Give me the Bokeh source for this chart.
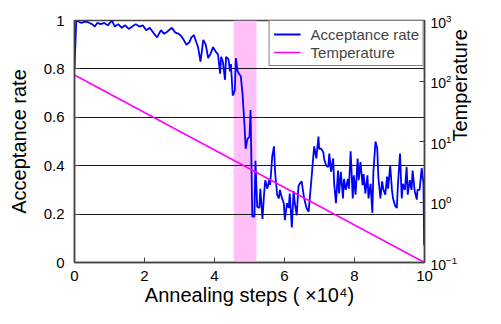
import math
from bokeh.plotting import figure
from bokeh.models import Range1d, LogScale, LogAxis, FixedTicker
from bokeh.embed import file_html
from bokeh.resources import INLINE

# ---- data ----
steps = [0.00, 0.05, 0.12, 0.20, 0.30, 0.40, 0.50, 0.58, 0.65, 0.75, 0.85, 0.95, 1.07, 1.15, 1.25,
         1.35, 1.45, 1.55, 1.65, 1.75, 1.85, 1.95, 2.05, 2.15, 2.25, 2.36, 2.47, 2.56, 2.66, 2.78,
         2.88, 2.98, 3.05, 3.12, 3.20, 3.28, 3.34, 3.41, 3.48, 3.53, 3.60, 3.68, 3.75, 3.82, 3.88,
         3.96, 4.04, 4.10, 4.16, 4.19, 4.24, 4.30, 4.33, 4.40, 4.44, 4.47, 4.52, 4.58, 4.61, 4.66,
         4.70, 4.75, 4.80, 4.86, 4.89, 4.94, 5.00, 5.03, 5.08, 5.14, 5.17, 5.22, 5.28, 5.31, 5.37,
         5.42, 5.45, 5.51, 5.56, 5.59, 5.65, 5.70, 5.73, 5.79, 5.84, 5.87, 5.93, 5.98, 6.01, 6.07,
         6.12, 6.15, 6.21, 6.26, 6.29, 6.35, 6.40, 6.43, 6.49, 6.54, 6.57, 6.63, 6.69, 6.71, 6.77,
         6.83, 6.85, 6.91, 6.97, 6.99, 7.05, 7.11, 7.13, 7.19, 7.25, 7.28, 7.33, 7.39, 7.42, 7.47,
         7.53, 7.56, 7.61, 7.67, 7.70, 7.75, 7.81, 7.84, 7.89, 7.95, 7.98, 8.03, 8.09, 8.12, 8.17,
         8.23, 8.26, 8.31, 8.37, 8.40, 8.46, 8.51, 8.54, 8.60, 8.65, 8.68, 8.74, 8.79, 8.82, 8.88,
         8.93, 8.96, 9.02, 9.07, 9.10, 9.16, 9.21, 9.24, 9.30, 9.35, 9.38, 9.44, 9.49, 9.52, 9.58,
         9.63, 9.66, 9.72, 9.78, 9.80, 9.86, 9.92, 9.94, 9.97, 9.99]
acceptance = [0.80, 1.00, 0.995, 0.99, 0.995, 0.992, 0.985, 0.975, 0.99, 0.985, 0.99, 0.98, 1.00, 0.975, 0.985,
              0.97, 0.98, 0.965, 0.975, 0.985, 0.975, 0.98, 0.96, 0.97, 0.95, 0.93, 0.96, 0.945, 0.955, 0.97,
              0.95, 0.945, 0.935, 0.92, 0.90, 0.91, 0.93, 0.94, 0.91, 0.89, 0.83, 0.92, 0.90, 0.845, 0.86,
              0.89, 0.87, 0.86, 0.78, 0.85, 0.83, 0.755, 0.85, 0.84, 0.79, 0.82, 0.69, 0.71, 0.845, 0.79,
              0.78, 0.77, 0.70, 0.56, 0.47, 0.51, 0.52, 0.63, 0.19, 0.19, 0.42, 0.23, 0.225, 0.305, 0.18,
              0.29, 0.34, 0.305, 0.34, 0.32, 0.44, 0.48, 0.375, 0.28, 0.265, 0.30, 0.265, 0.245, 0.175, 0.245,
              0.225, 0.285, 0.145, 0.295, 0.25, 0.195, 0.315, 0.325, 0.335, 0.285, 0.26, 0.225, 0.21, 0.245, 0.345,
              0.45, 0.48, 0.43, 0.52, 0.47, 0.47, 0.455, 0.43, 0.40, 0.395, 0.45, 0.375, 0.43, 0.325, 0.245,
              0.38, 0.285, 0.375, 0.265, 0.345, 0.30, 0.345, 0.305, 0.46, 0.265, 0.36, 0.28, 0.43, 0.34, 0.415,
              0.32, 0.365, 0.285, 0.36, 0.265, 0.325, 0.205, 0.375, 0.50, 0.47, 0.355, 0.265, 0.335, 0.305, 0.28,
              0.355, 0.305, 0.40, 0.30, 0.265, 0.235, 0.225, 0.32, 0.45, 0.265, 0.325, 0.30, 0.395, 0.28, 0.34,
              0.30, 0.38, 0.295, 0.26, 0.30, 0.30, 0.39, 0.36, 0.33, 0.07]
temp_steps = [0, 10]
temperature = [126, 0.1]
band_start = [4.55]
band_end = [5.2]
x_ticks = [0, 2, 4, 6, 8, 10]
acc_ticks = [0, 0.2, 0.4, 0.6, 0.8, 1]
grid_levels = [0.2, 0.4, 0.6, 0.8]
temp_ticks = [0.1, 1, 10, 100, 1000]

FONT = "Liberation Sans"
SPINE = "#444444"

p = figure(width=485, height=308,
           x_range=Range1d(0, 10), y_range=Range1d(0, 1),
           output_backend="svg", toolbar_location=None,
           min_border_left=74, min_border_right=56, min_border_top=20, min_border_bottom=46,
           background_fill_color="white", border_fill_color="white")
p.extra_y_ranges = {"temp": Range1d(0.1, 1000)}
p.extra_y_scales = {"temp": LogScale()}

p.outline_line_color = SPINE
p.outline_line_width = 1.5

# pink band (below grid)
p.quad(left=band_start, right=band_end, bottom=[0], top=[1],
       fill_color="#FFC0F8", line_color=None, level="image")

acc_r = p.line(steps, acceptance, line_color="#0000FF", line_width=1.8, legend_label="Acceptance rate")
temp_r = p.line(temp_steps, temperature, line_color="#FF00FF", line_width=1.6,
                y_range_name="temp", legend_label="Temperature")

p.xgrid.visible = False
p.ygrid.ticker = FixedTicker(ticks=grid_levels)
p.ygrid.grid_line_color = "#1a1a1a"
p.ygrid.grid_line_width = 1

def style_axis(ax, tick_size="15px"):
    ax.axis_line_color = SPINE
    ax.axis_line_width = 1.5
    ax.major_tick_line_color = SPINE
    ax.major_tick_line_width = 1
    ax.major_tick_in = 5
    ax.major_tick_out = 0
    ax.minor_tick_line_color = None
    ax.major_label_text_font = FONT
    ax.major_label_text_font_size = tick_size
    ax.major_label_text_color = "black"
    ax.axis_label_text_font = FONT
    ax.axis_label_text_font_size = "20px"
    ax.axis_label_text_font_style = "normal"
    ax.axis_label_text_color = "black"

xa = p.xaxis[0]
style_axis(xa)
xa.ticker = FixedTicker(ticks=x_ticks)
xa.axis_label = "Annealing steps ( \u00d710\u2074)"
xa.major_label_standoff = 8
xa.axis_label_standoff = 0

ya = p.yaxis[0]
style_axis(ya)
ya.ticker = FixedTicker(ticks=acc_ticks)
ya.major_label_overrides = {0: "0", 1: "1"}
ya.axis_label = "Acceptance rate"
ya.major_label_standoff = 10
ya.axis_label_standoff = 11

ra = LogAxis(y_range_name="temp", ticker=FixedTicker(ticks=temp_ticks),
             axis_label="Temperature")
style_axis(ra, "14px")
ra.major_label_standoff = 6
ra.axis_label_standoff = 0
ra.axis_label_orientation = math.pi / 2
p.add_layout(ra, "right")

lg = p.legend[0]
lg.location = "top_right"
lg.margin = 0
lg.padding = 4
lg.spacing = 0
lg.glyph_width = 27
lg.glyph_height = 18
lg.label_height = 18
lg.label_standoff = 10
lg.label_text_font = FONT
lg.label_text_font_size = "15px"
lg.border_line_color = "black"
lg.border_line_width = 1
lg.background_fill_alpha = 1

open("out.html", "w").write(file_html(p, INLINE))
